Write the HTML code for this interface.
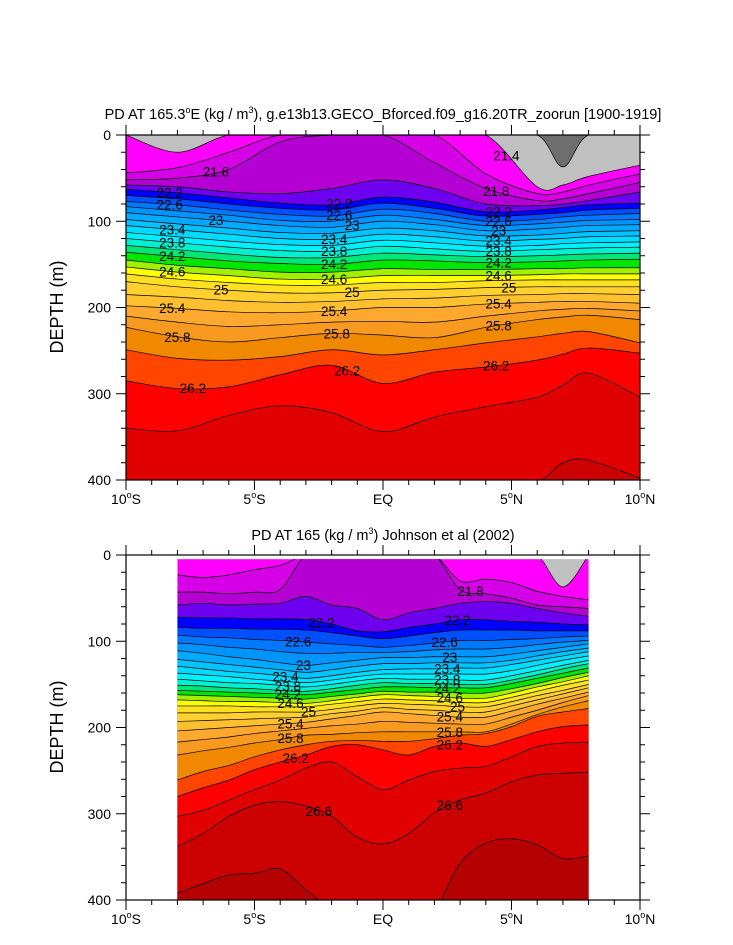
<!DOCTYPE html>
<html><head><meta charset="utf-8"><style>
html,body{margin:0;padding:0;background:#fff;overflow:hidden;width:733px;height:945px;}
svg{display:block;}
svg text{font-family:"Liberation Sans",sans-serif;}
</style></head><body>
<svg id="chart" width="733" height="945" viewBox="0 0 733 945" xmlns="http://www.w3.org/2000/svg">
<rect x="0" y="0" width="733" height="945" fill="#fff"/>
<defs>
<clipPath id="clipTop"><rect x="126" y="135" width="514" height="345"/></clipPath>
<clipPath id="clipBot"><rect x="177.4" y="559.3" width="411.2" height="340.7"/></clipPath>
</defs>
<g id="topPlot"></g>
<g id="botPlot"></g>
<text x="383" y="119" text-anchor="middle" font-size="14.5">PD AT 165.3<tspan font-size="9" dy="-6">o</tspan><tspan dy="6">E (kg / m</tspan><tspan font-size="9" dy="-6">3</tspan><tspan dy="6">), g.e13b13.GECO_Bforced.f09_g16.20TR_zoorun [1900-1919]</tspan></text>
<text x="383" y="540" text-anchor="middle" font-size="14.5">PD AT 165 (kg / m<tspan font-size="9" dy="-6">3</tspan><tspan dy="6">) Johnson et al (2002)</tspan></text>
<text transform="translate(63,307) rotate(-90)" text-anchor="middle" font-size="18">DEPTH (m)</text>
<text transform="translate(63,727) rotate(-90)" text-anchor="middle" font-size="18">DEPTH (m)</text>
</svg>
<script>
const levels=[21.2,21.4,21.6,21.8,22.0,22.2,22.4,22.6,22.8,23.0,23.2,23.4,23.6,23.8,24.0,24.2,24.4,24.6,24.8,25.0,25.2,25.4,25.6,25.8,26.0,26.2,26.4,26.6,26.8];
const bandColors=["#c0c0c0","#ff00ff","#d600e6","#b400d2","#6e00f0","#0000ff","#0050ff","#0078ff","#0094ff","#00aaff","#00c4ff","#00dcff","#00f0ff","#00f0d0","#00e678","#00e600","#a0f000","#ffff00","#ffe020","#ffd030","#ffc030","#ffa830","#f89a20","#f08800","#ff4500","#ff0000","#e00000","#cc0000","#b40000"];
const topBase="#6e6e6e";
const topLats=[-10,-8,-6,-4,-2,0,2,4,6,7,8,10];
const topDepths=[
[0,0,0,0,0,0,0,0,0,37,0,0],
[0,20,0,0,0,0,0,0,60,58,48,35],
[44,38,20,0,0,0,0,45,68,66,58,45],
[52,50,40,8,0,0,32,62,76,74,68,55],
[58,60,66,68,62,52,62,80,82,80,76,66],
[63,67,73,79,81,72,78,89,87,84,81,79],
[70,74,80,85,87,79,85,94,92,90,87,85],
[77,81,87,92,94,86,91,100,98,95,93,91],
[83,88,93,99,100,93,98,105,103,101,99,98],
[90,95,100,105,107,100,104,111,109,107,105,104],
[98,103,108,113,114,108,111,117,116,114,112,111],
[105,110,115,120,121,115,118,123,121,120,118,117],
[113,118,123,127,128,122,125,129,128,126,125,124],
[120,125,130,134,135,129,132,135,133,132,131,130],
[128,133,138,142,142,137,139,141,140,139,138,137],
[136,141,146,149,150,145,146,148,147,146,145,144],
[145,151,155,159,159,155,156,156,155,155,154,154],
[153,159,163,167,167,163,163,163,162,161,161,161],
[161,167,171,174,174,171,171,169,168,168,168,168],
[170,176,180,183,183,180,179,177,176,176,176,176],
[185,188,192,194,193,190,189,186,185,184,184,185],
[198,201,205,206,204,200,200,196,194,193,193,195],
[210,217,222,220,217,216,217,210,204,202,201,204],
[223,234,240,235,230,232,235,223,214,211,209,214],
[249,259,261,257,249,255,249,241,234,230,228,241],
[285,294,292,278,267,288,275,269,261,254,247,253],
[340,343,325,314,322,344,327,315,304,290,276,304],
[450,450,450,450,450,450,450,450,402,380,377,398],
[460,460,460,460,460,460,460,460,460,460,460,460]];
const botLats=[-8,-7,-6,-5,-4,-3,-2,-1,0,1,2,3,4,5,6,7,8];
const botDepths=[
[0,0,0,0,0,0,0,0,0,0,0,0,0,0,0,0,0],
[0,0,0,0,0,0,0,0,0,0,0,0,0,0,0,37,0],
[23,26,23,17,12,0,0,0,0,0,0,30,28,32,42,48,52],
[43,43,45,43,40,0,0,0,0,0,0,40,45,50,58,60,62],
[58,56,58,57,56,48,58,62,75,67,62,56,54,56,62,67,71],
[72,73,73,74,74,75,80,88,89,84,80,75,75,77,78,80,81],
[84,85,85,86,86,87,90,94,97,94,90,87,87,87,88,88,88],
[93,95,96,98,99,101,103,105,107,105,102,99,99,98,97,95,94],
[102,104,107,109,112,114,114,113,113,112,110,109,109,107,104,101,99],
[111,114,118,121,125,128,125,122,119,119,118,118,118,115,111,107,103],
[121,124,127,130,133,136,133,129,126,126,125,125,125,122,117,112,108],
[129,132,135,137,140,143,140,136,133,132,132,131,131,127,122,117,112],
[137,139,141,144,146,148,145,141,138,138,138,138,138,134,128,122,117],
[144,146,148,149,151,153,150,146,143,144,144,145,145,140,134,128,122],
[151,152,154,155,157,158,155,151,148,149,149,150,150,145,139,132,126],
[157,158,159,160,161,162,159,156,153,153,154,154,154,149,143,137,131],
[162,163,164,165,166,167,164,161,158,159,159,160,160,155,149,142,136],
[168,169,170,170,171,172,169,165,162,163,164,166,166,160,153,147,140],
[175,175,175,176,176,176,173,170,167,168,169,171,171,165,158,151,145],
[183,183,183,182,182,182,179,175,172,173,174,176,176,170,163,157,150],
[193,192,191,190,189,188,184,181,177,179,180,182,182,175,168,161,154],
[204,202,200,198,196,194,190,186,182,184,186,188,188,181,173,166,159],
[217,214,211,207,204,201,198,196,193,194,195,196,196,188,180,171,163],
[232,227,223,218,214,209,208,206,205,205,205,205,205,196,185,176,169],
[261,251,244,234,226,220,216,215,216,216,213,209,207,199,187,182,178],
[280,270,261,249,240,232,222,220,226,232,222,218,222,214,205,199,197],
[303,296,284,272,261,247,240,257,272,261,251,247,245,234,222,218,217],
[338,323,303,290,286,291,303,327,335,323,299,284,276,263,255,253,252],
[392,381,371,369,364,388,440,440,440,440,440,357,334,329,336,352,349]];
const topLabelLats=[-8.3,-8.3,-6.5,-8.2,-8.2,-8.2,-8.2,-6.3,-8.2,-8.0,-7.4,-6.5,-1.7,-1.7,-1.2,-1.9,-1.9,-1.9,-1.9,-1.2,-1.9,-1.8,-1.4,4.8,4.4,4.5,4.5,4.5,4.5,4.5,4.5,4.5,4.9,4.5,4.5,4.4];
const topLabelVals=[22.2,22.6,23,23.4,23.8,24.2,24.6,25,25.4,25.8,26.2,21.8,22.2,22.6,23,23.4,23.8,24.2,24.6,25,25.4,25.8,26.2,21.4,21.8,22.2,22.6,23,23.4,23.8,24.2,24.6,25,25.4,25.8,26.2];
const botLabelLats=[-2.4,-3.3,-3.1,-3.8,-3.7,-3.7,-3.6,-2.9,-3.6,-3.6,-3.4,-2.5,3.4,2.9,2.4,2.6,2.5,2.5,2.5,2.6,2.9,2.6,2.6,2.6,2.6];
const botLabelVals=[22.2,22.6,23,23.4,23.8,24.2,24.6,25,25.4,25.8,26.2,26.6,21.8,22.2,22.6,23,23.4,23.8,24.2,24.6,25,25.4,25.8,26.2,26.6];
const xTickLats=[-10,-5,0,5,10];
const xTickText=[["10","S"],["5","S"],["EQ",""],["5","N"],["10","N"]];
const yTickDepths=[0,100,200,300,400];

const NS="http://www.w3.org/2000/svg";
const X=lat=>126+(lat+10)*25.7;
const Ytop=d=>135+d*0.8625;
const Ybot=d=>555+d*0.8625;
function el(tag,attrs,parent){const e=document.createElementNS(NS,tag);for(const k in attrs)e.setAttribute(k,attrs[k]);parent.appendChild(e);return e;}
function curve(lats,ds,Y){
  const p=lats.map((l,i)=>[X(l),Y(Math.min(ds[i],410))]);
  let s="M"+p[0][0].toFixed(2)+" "+p[0][1].toFixed(2);
  for(let i=0;i<p.length-1;i++){
    const p0=p[i-1]||p[i],p1=p[i],p2=p[i+1],p3=p[i+2]||p[i+1];
    const c1=[p1[0]+(p2[0]-p0[0])/6,p1[1]+(p2[1]-p0[1])/6];
    const c2=[p2[0]-(p3[0]-p1[0])/6,p2[1]-(p3[1]-p1[1])/6];
    s+=" C"+c1[0].toFixed(2)+" "+c1[1].toFixed(2)+" "+c2[0].toFixed(2)+" "+c2[1].toFixed(2)+" "+p2[0].toFixed(2)+" "+p2[1].toFixed(2);
  }
  return s;
}
function interp(lats,ds,lat){
  for(let i=0;i<lats.length-1;i++){if(lat>=lats[i]&&lat<=lats[i+1]){const t=(lat-lats[i])/(lats[i+1]-lats[i]);return ds[i]+t*(ds[i+1]-ds[i]);}}
  return ds[ds.length-1];
}
function drawPanel(g,lats,depths,Y,clipId,base,labLats,labVals,y0){
  const cg=el("g",{"clip-path":"url(#"+clipId+")"},g);
  const x0=X(lats[0]),x1=X(lats[lats.length-1]);
  const bg=el("rect",{x:x0,y:Y(0),width:x1-x0,height:Y(405)-Y(0)},cg);
  bg.setAttribute("fill",base);
  
  
  depths.forEach((row,i)=>{
    const c=curve(lats,row,Y);
    const f=el("path",{d:c+" L"+x1+" "+Y(410)+" L"+x0+" "+Y(410)+" Z",fill:bandColors[i],stroke:"none"},cg);
    
    
  });
  depths.forEach((row,i)=>{
    const l=el("path",{d:curve(lats,row,Y),fill:"none",stroke:"#000","stroke-width":"0.7"},cg);
    
    
  });
  labLats.forEach((lat,j)=>{
    const li=levels.findIndex(v=>Math.abs(v-labVals[j])<1e-6);
    const d=interp(lats,depths[li],lat);
    const t=el("text",{x:X(lat),y:Y(d)+5,"text-anchor":"middle","font-size":"13.5",fill:"#000"},cg);
    t.textContent=String(labVals[j]);
    
    
  });
  const fr=el("rect",{x:126,y:y0,width:514,height:345,fill:"none",stroke:"#000","stroke-width":"1.2"},g);
  
  
  for(let lat=-10;lat<=10;lat++){
    const major=lat%5===0;const len=major?10:5;
    const x=X(lat);
    el("line",{x1:x,x2:x,y1:y0+345,y2:y0+345+len,stroke:"#000","stroke-width":"1"},g);
    el("line",{x1:x,x2:x,y1:y0,y2:y0-len,stroke:"#000","stroke-width":"1"},g);
  }
  xTickLats.forEach((lat,i)=>{
    const t=el("text",{x:X(lat),y:y0+345+24,"text-anchor":"middle","font-size":"14"},g);
    
    
    if(xTickText[i][1]){
      t.appendChild(document.createTextNode(xTickText[i][0]));
      const s=el("tspan",{"font-size":"9",dy:"-6"},t);s.textContent="o";
      const s2=el("tspan",{dy:"6"},t);s2.textContent=xTickText[i][1];
    } else t.textContent=xTickText[i][0];
  });
  for(let d=0;d<=400;d+=20){
    const major=d%100===0;const len=major?10:5;const y=y0+d*0.8625;
    el("line",{x1:126,x2:126-len,y1:y,y2:y,stroke:"#000","stroke-width":"1"},g);
    el("line",{x1:640,x2:640+len,y1:y,y2:y,stroke:"#000","stroke-width":"1"},g);
  }
  yTickDepths.forEach(d=>{
    const t=el("text",{x:111,y:y0+d*0.8625+5,"text-anchor":"end","font-size":"14"},g);
    t.textContent=String(d);
    
    
  });
}
drawPanel(document.getElementById("topPlot"),topLats,topDepths,Ytop,"clipTop",topBase,topLabelLats,topLabelVals,135);
drawPanel(document.getElementById("botPlot"),botLats,botDepths,Ybot,"clipBot","#c0c0c0",botLabelLats,botLabelVals,555);
</script>
</body></html>
